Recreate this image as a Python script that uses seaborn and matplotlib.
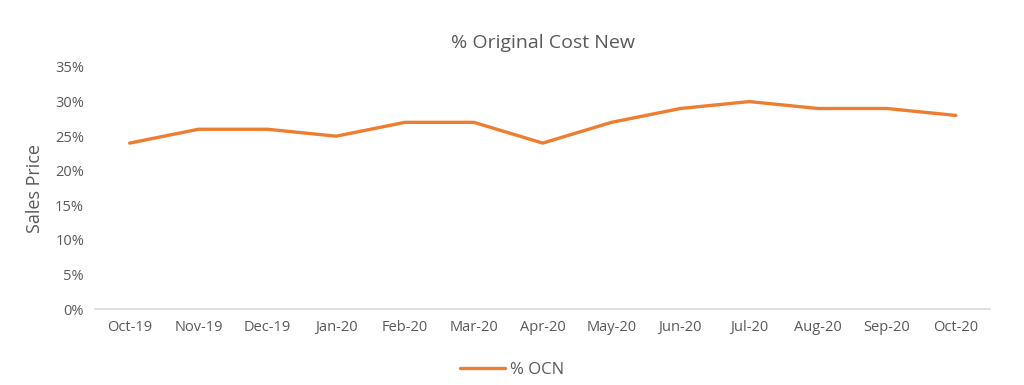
import seaborn as sns
import pandas as pd
import matplotlib.pyplot as plt
from matplotlib.ticker import FuncFormatter

months = ['Oct-19', 'Nov-19', 'Dec-19', 'Jan-20', 'Feb-20', 'Mar-20', 'Apr-20',
          'May-20', 'Jun-20', 'Jul-20', 'Aug-20', 'Sep-20', 'Oct-20']
pct_ocn = [0.24, 0.26, 0.26, 0.25, 0.27, 0.27, 0.24, 0.27, 0.29, 0.30, 0.29, 0.29, 0.28]

data = pd.DataFrame({'month': months, 'ocn': pct_ocn})

sns.set_style('white')
plt.rcParams['font.family'] = ['Open Sans', 'DejaVu Sans']
txt = '#595959'

fig = plt.figure(figsize=(10.24, 3.85), dpi=100)
ax = fig.add_axes([0.093, 0.197, 0.874, 0.629])

sns.lineplot(x='month', y='ocn', data=data, color='#ED7D31', linewidth=2.4,
             label='% OCN', ax=ax, sort=False)

ax.set_ylim(0, 0.35)
ax.set_yticks([i * 0.05 for i in range(8)])
ax.yaxis.set_major_formatter(FuncFormatter(lambda v, p: f'{v*100:.0f}%'))
ax.set_xlim(-0.5, len(months) - 0.5)

for s in ['top', 'right', 'left']:
    ax.spines[s].set_visible(False)
ax.spines['bottom'].set_color('#d9d9d9')
ax.spines['bottom'].set_linewidth(1.2)
ax.tick_params(axis='both', length=0, labelsize=10.5, colors=txt, pad=8)

ax.set_xlabel('')
ax.set_ylabel('Sales Price', fontsize=13, color=txt, labelpad=8)
ax.set_title('% Original Cost New', fontsize=14, color=txt, pad=14)

# legend centred on the figure, below the axis
ax.legend(loc='upper center', bbox_to_anchor=(0.5, 0.10), bbox_transform=fig.transFigure,
          frameon=False, fontsize=12, labelcolor=txt, handlelength=2.7, handletextpad=0.3)

plt.savefig('out.png', dpi=100)
